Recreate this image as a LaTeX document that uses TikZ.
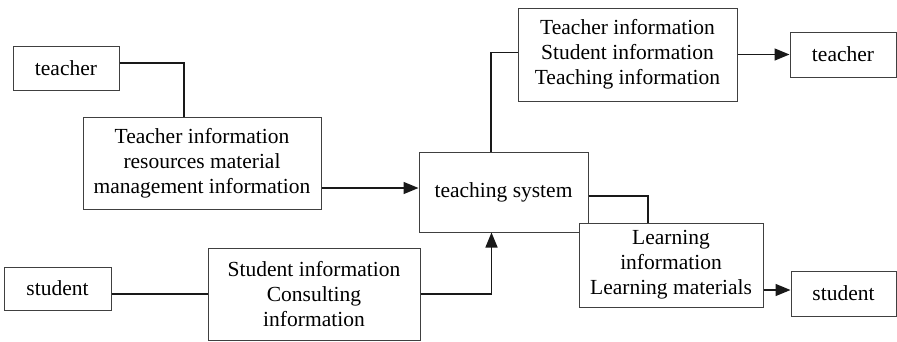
\documentclass[tikz,border=0pt]{standalone}
\usepackage{fontspec}
\setmainfont{Liberation Serif}
\usetikzlibrary{arrows.meta,calc}
\begin{document}
\begin{tikzpicture}[x=1pt,y=-1pt,
  box/.style={draw=black!75,line width=1pt,fill=white,align=center,inner sep=0pt,
    font=\fontsize{21.5}{25}\selectfont},
  conn/.style={draw=black!90,line width=1.5pt},
  arr/.style={conn,-{Triangle[length=15pt,width=12pt]}}]
\useasboundingbox (0,0) rectangle (897,341);
\node[box,minimum width=106pt,minimum height=44pt] (teacherL) at (66,68) {teacher};
\node[box,minimum width=238pt,minimum height=92pt] (TI) at (202,163) {Teacher information\\resources material\\management information};
\node[box,minimum width=169pt,minimum height=80pt] (TS) at (503.5,192) {teaching system};
\node[box,minimum width=219pt,minimum height=93pt] (TSI) at (627.5,54.5) {Teacher information\\Student information\\Teaching information};
\node[box,minimum width=106pt,minimum height=45pt] (teacherR) at (843,54.5) {teacher};
\node[box,minimum width=184pt,minimum height=84pt] (LI) at (671,265) {Learning\\information\\Learning materials};
\node[box,minimum width=105pt,minimum height=45pt] (studentR) at (843.5,293.5) {student};
\node[box,minimum width=107pt,minimum height=43pt] (studentL) at (57.5,288.5) {student};
\node[box,minimum width=212pt,minimum height=92pt] (SC) at (314,294) {Student information\\Consulting\\information};
% connectors
\draw[conn] ($(teacherL.east)+(0,-5)$) -| ($(TI.north)+(-18,0)$);
\draw[arr] ($(TI.east)+(0,25)$) coordinate (a1) -- (a1 -| TS.west);
\draw[conn] ($(TS.north)+(-12.5,0)$) |- ($(TSI.west)+(0,-2)$);
\draw[arr] (TSI.east) -- (teacherR.west);
\draw[conn] ($(TS.east)+(0,4)$) -| ($(LI.north)+(-23,0)$);
\draw[arr] ($(LI.east)+(0,25)$) coordinate (a2) -- (a2 -| studentR.west);
\draw[conn] (studentL.east |- SC.west) -- (SC.west);
\draw[arr] (SC.east) -| ($(TS.south)+(-12,0)$);
\end{tikzpicture}
\end{document}
